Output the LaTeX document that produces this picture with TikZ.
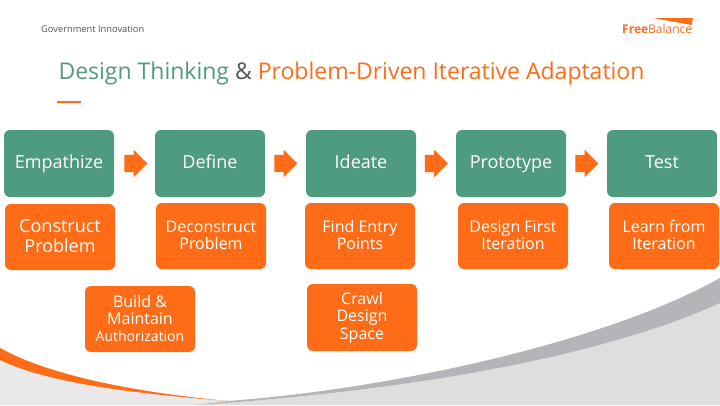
\documentclass[tikz,border=0pt]{standalone}
\usepackage{fontspec}
\setmainfont{Open Sans}
\usetikzlibrary{shapes.arrows}
\definecolor{fbgreen}{HTML}{4E9B80}
\definecolor{fborange}{HTML}{FF6C17}
\definecolor{fbgrey}{HTML}{B4B5B8}
\definecolor{fblight}{HTML}{DEDEDE}
\definecolor{fblighter}{HTML}{E9E9E9}
\definecolor{fbtext}{HTML}{555555}
\newcommand{\lineup}{\vphantom{Ag}}
\newcommand{\lowerup}{\rule{0pt}{0.87em}}
\tikzset{
  x=1pt,y=-1pt,
  greenbox/.style={fill=fbgreen,rounded corners=6pt,minimum width=110pt,minimum height=67pt,inner sep=0pt,text=white,align=center,text height=13pt,text depth=4pt,font=\fontsize{18}{22}\selectfont},
  orangebox/.style={fill=fborange,rounded corners=6pt,minimum width=110pt,minimum height=66pt,inner sep=0pt,text=white,align=center,font=\fontsize{16}{17.5}\selectfont},
  flowarrow/.style={single arrow,fill=fborange,minimum width=27pt,minimum height=23pt,single arrow head extend=5pt,single arrow tip angle=90,inner xsep=0pt,inner ysep=8.5pt}
}
\begin{document}
\begin{tikzpicture}
\useasboundingbox (0,0) rectangle (720,405);
\fill[white] (0,0) rectangle (720,405);
% bottom background
\fill[fblighter] (0,352) .. controls (60,380) and (150,393) .. (228,401) -- (300,405) -- (0,405) -- cycle;
\fill[fblight] (195,405) .. controls (400,392) and (600,358) .. (720,303) -- (720,405) -- cycle;
% swooshes
\fill[fborange] (0,348) .. controls (50,376) and (140,393) .. (228,401) .. controls (140,394) and (50,384) .. (0,360) -- cycle;
\fill[fbgrey] (228,401) .. controls (400,388) and (610,340) .. (720,278) -- (720,303) .. controls (600,358) and (400,392) .. (195,405) -- cycle;
% header
\node[anchor=base west,text=fbtext,font=\fontsize{9.3}{11}\selectfont,inner sep=0pt] (hdr) at (41,32) {Government Innovation};
\node[anchor=base,inner sep=0pt,font=\fontsize{23}{28}\selectfont] (title) at (351.5,79.5) {\textcolor{fbgreen}{Design Thinking} \textcolor{fbtext}{\&} \textcolor{fborange}{Problem-Driven Iterative Adaptation}};
\fill[fborange] (57,101) rectangle (81,102.5);
% logo
\fill[fborange] (653,18) -- (693,18) -- (691.5,25) -- cycle;
\node[anchor=base west,inner sep=0pt,text=fborange,font=\fontsize{12}{14}\selectfont] (logo) at (622,33.5) {\textbf{Free}Balance};
% green row
\node[greenbox] (g1) at (59,163.5) {Empathize};
\node[greenbox] (g2) at (210,163.5) {Define};
\node[greenbox] (g3) at (361,163.5) {Ideate};
\node[greenbox] (g4) at (511,163.5) {Prototype};
\node[greenbox] (g5) at (662,163.5) {Test};
% arrows
\node[flowarrow] (a1) at (131.5,163.5) {};
\node[flowarrow] (a2) at (281.5,163.5) {};
\node[flowarrow] (a3) at (432,163.5) {};
\node[flowarrow] (a4) at (582.5,163.5) {};
% orange row
\node[orangebox,font=\fontsize{18}{20}\selectfont] (o1) at (60,237) {\lowerup Construct\lineup\\Problem\lineup};
\node[orangebox] (o2) at (211,236) {\lowerup Deconstruct\lineup\\Problem\lineup};
\node[orangebox] (o3) at (360,236) {\lowerup Find Entry\lineup\\Points\lineup};
\node[orangebox] (o4) at (513,236) {\lowerup Design First\lineup\\Iteration\lineup};
\node[orangebox] (o5) at (664,236) {\lowerup Learn from\lineup\\Iteration\lineup};
\node[orangebox,font=\fontsize{16}{17}\selectfont] (o6) at (140,319) {\lowerup Build \&\lineup\\Maintain\lineup\\{\fontsize{14}{17}\selectfont Authorization\lineup}};
\node[orangebox,minimum height=67pt] (o7) at (362,317.5) {Crawl\lineup\\Design\lineup\\Space\lineup};
\end{tikzpicture}
\end{document}
